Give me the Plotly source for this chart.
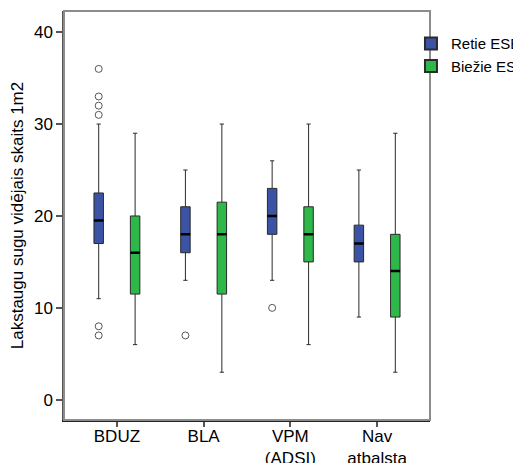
import plotly.graph_objects as go

categories = ["BDUZ", "BLA", "VPM<br>(ADSI)", "Nav<br>atbalsta"]
series_names = ["Retie ESB", "Biežie ESB"]

retie_lower = [11, 13, 13, 9]
retie_q1 = [17, 16, 18, 15]
retie_median = [19.5, 18, 20, 17]
retie_q3 = [22.5, 21, 23, 19]
retie_upper = [30, 25, 26, 25]
retie_out_x = ["BDUZ", "BDUZ", "BDUZ", "BDUZ", "BDUZ", "BDUZ", "BLA", "VPM<br>(ADSI)"]
retie_out_y = [36, 33, 32, 31, 8, 7, 7, 10]

biezie_lower = [6, 3, 6, 3]
biezie_q1 = [11.5, 11.5, 15, 9]
biezie_median = [16, 18, 18, 14]
biezie_q3 = [20, 21.5, 21, 18]
biezie_upper = [29, 30, 30, 29]

colors = ["#3a53a4", "#2fb84a"]
y_ticks = [0, 10, 20, 30, 40]

fig = go.Figure()
stats = [
    (retie_lower, retie_q1, retie_median, retie_q3, retie_upper),
    (biezie_lower, biezie_q1, biezie_median, biezie_q3, biezie_upper),
]
for i, (lo, q1, med, q3, up) in enumerate(stats):
    fig.add_trace(go.Box(
        name=series_names[i], x=categories, q1=q1, median=med, q3=q3,
        lowerfence=lo, upperfence=up, fillcolor=colors[i],
        line=dict(color="#2a2a2a", width=1), whiskerwidth=0.45,
        offsetgroup=str(i), alignmentgroup="a", boxpoints=False,
        hoverinfo="skip",
    ))
for i, (lo, q1, med, q3, up) in enumerate(stats):
    fig.add_trace(go.Box(
        name=series_names[i] + " median", x=categories, q1=med, median=med, q3=med,
        lowerfence=med, upperfence=med, fillcolor="rgba(0,0,0,0)",
        line=dict(color="#000000", width=2.5), whiskerwidth=0,
        offsetgroup=str(i), alignmentgroup="a", boxpoints=False,
        showlegend=False, hoverinfo="skip",
    ))

fig.add_trace(go.Scatter(
    x=retie_out_x, y=retie_out_y, mode="markers",
    marker=dict(symbol="circle-open", size=7, color="#555555", line=dict(width=1)),
    offsetgroup="0", alignmentgroup="a", showlegend=False, hoverinfo="skip",
))
fig.add_trace(go.Scatter(
    x=[], y=[], mode="markers",
    marker=dict(symbol="circle-open", size=7, color="#555555"),
    offsetgroup="1", alignmentgroup="a", showlegend=False, hoverinfo="skip",
))

fig.add_shape(type="rect", xref="paper", yref="paper", x0=0, y0=0, x1=1, y1=1,
              line=dict(color="#8c8c8c", width=2), layer="above")

font_family = "Liberation Sans, Arial, sans-serif"
fig.update_layout(
    width=521, height=463,
    margin=dict(l=56, r=99, t=3, b=51, autoexpand=False),
    paper_bgcolor="white", plot_bgcolor="white",
    boxmode="group", boxgap=0.16, boxgroupgap=0.74,
    scattermode="group", scattergap=0.16,
    font=dict(family=font_family, color="#000000"),
    showlegend=True,
    legend=dict(x=0.948, y=0.96, xanchor="left", yanchor="top",
                font=dict(size=15, family=font_family),
                bgcolor="rgba(0,0,0,0)", borderwidth=0,
                itemsizing="constant", tracegroupgap=0, itemclick=False,
                itemwidth=30),
    xaxis=dict(
        type="category", categoryorder="array", categoryarray=categories,
        range=[-0.61, 3.61], showgrid=False, zeroline=False,
        showline=True, linecolor="#222222", linewidth=1.5,
        ticks="outside", ticklen=5, tickcolor="#555555", tickwidth=1.5,
        tickfont=dict(size=17, family=font_family), automargin=False,
        ticklabelstandoff=-5,
    ),
    yaxis=dict(
        range=[-2.2, 42.3], tickvals=y_ticks, showgrid=False, zeroline=False,
        showline=True, linecolor="#555555", linewidth=1.5,
        ticks="outside", ticklen=6, tickcolor="#555555", tickwidth=1.5,
        tickfont=dict(size=17, family=font_family), automargin=False,
        title=dict(text="Lakstaugu sugu vidējais skaits 1m2",
                   font=dict(size=17, family=font_family), standoff=7),
    ),
)

fig.write_html("out.html")
